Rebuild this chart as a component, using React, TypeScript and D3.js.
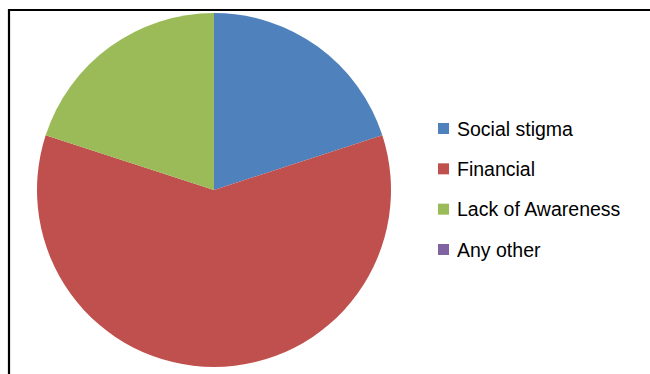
import React from "react";
import * as d3 from "d3";

const categories = ["Social stigma", "Financial", "Lack of Awareness", "Any other"];
const values = [20, 60, 20, 0];
const colors = ["#4F81BD", "#C0504D", "#9BBB59", "#8064A2"];

export default function App() {
  const width = 650;
  const height = 374;
  const cx = 214;
  const cy = 190;
  const r = 177;

  const data = categories.map((c, i) => ({ name: c, value: values[i], color: colors[i] }));
  const pie = d3.pie<any>().sort(null).value((d: any) => d.value);
  const arcs = pie(data);
  const arc = d3.arc<any>().innerRadius(0).outerRadius(r);

  const legendY = d3.scalePoint<string>().domain(categories).range([129, 250]);

  return (
    <svg
      width={width}
      height={height}
      style={{ position: "absolute", left: 0, top: 0, background: "#fff" }}
    >
      <rect x={0} y={0} width={width} height={height} fill="#fff" />
      <path d={`M9,${height + 5} L9,10 L${width + 5},10`} fill="none" stroke="#000" strokeWidth={2.2} />
      <g transform={`translate(${cx},${cy})`}>
        {arcs.map((a, i) =>
          a.value > 0 ? <path key={i} d={arc(a) as string} fill={data[i].color} /> : null
        )}
      </g>
      <g>
        {categories.map((c, i) => (
          <g key={c} transform={`translate(438,${legendY(c)})`}>
            <rect x={0} y={-6} width={11} height={11} fill={colors[i]} />
            <text
              x={19}
              y={0}
              dy="0.35em"
              fontFamily="'Liberation Sans', Arial, sans-serif"
              fontSize={19.5}
              fill="#000"
            >
              {c}
            </text>
          </g>
        ))}
      </g>
    </svg>
  );
}
